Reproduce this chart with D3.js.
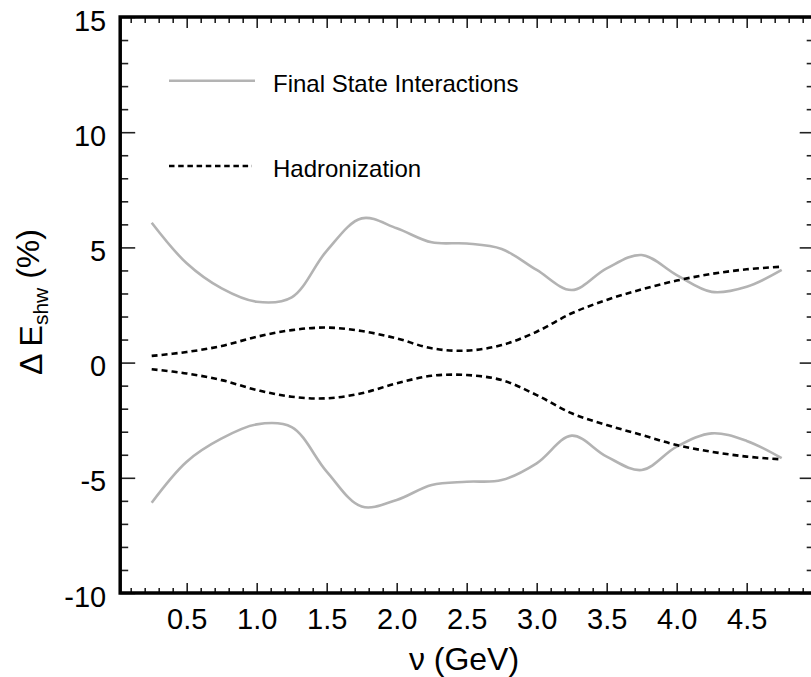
<!DOCTYPE html>
<html>
<head>
<meta charset="utf-8">
<script src="https://cdn.jsdelivr.net/npm/d3@7"></script>
<style>
  html, body { margin: 0; padding: 0; background: #fff; }
  svg { display: block; }
  text { font-family: "Liberation Sans", Arial, Helvetica, sans-serif; fill: #000; }
</style>
</head>
<body>
<svg id="chart" width="811" height="677"></svg>
<script>
// Energy (GeV) at which each uncertainty band is sampled
const nu = [0.25, 0.5, 0.75, 1.0, 1.25, 1.5, 1.75, 2.0, 2.25, 2.5, 2.75, 3.0, 3.25, 3.5, 3.75, 4.0, 4.25, 4.5, 4.75];

// Final state interactions: upper and lower shower-energy shifts (%)
const fsiUpper = [6.07, 4.31, 3.22, 2.64, 2.83, 4.85, 6.26, 5.83, 5.22, 5.17, 4.93, 4.02, 3.15, 4.09, 4.67, 3.80, 3.07, 3.29, 4.02];
const fsiLower = [-6.08, -4.30, -3.29, -2.68, -2.80, -4.73, -6.25, -5.96, -5.31, -5.17, -5.10, -4.37, -3.17, -4.08, -4.66, -3.65, -3.07, -3.40, -4.15];

// Hadronization: upper and lower shower-energy shifts (%)
const hadUpper = [0.29, 0.46, 0.72, 1.12, 1.41, 1.52, 1.37, 1.05, 0.62, 0.52, 0.76, 1.34, 2.14, 2.72, 3.18, 3.56, 3.85, 4.05, 4.16];
const hadLower = [-0.29, -0.47, -0.76, -1.19, -1.48, -1.55, -1.33, -0.90, -0.57, -0.54, -0.76, -1.41, -2.20, -2.71, -3.14, -3.58, -3.87, -4.08, -4.20];

// Axis ticks
const xMajorTicks = [0.5, 1.0, 1.5, 2.0, 2.5, 3.0, 3.5, 4.0, 4.5];
const xMinorTicks = d3.range(1, 50).map(i => i / 10).filter(v => Math.abs(v * 2 - Math.round(v * 2)) > 1e-6);
const yMajorTicks = [-10, -5, 0, 5, 10, 15];
const yMinorTicks = d3.range(-9, 15).filter(v => v % 5 !== 0);

const legendLabels = ["Final State Interactions", "Hadronization"];

const svg = d3.select("#chart");

const plotLeft = 120.2, plotRight = 816.7, plotTop = 17, plotBottom = 593;
const x = d3.scaleLinear().domain([0.025, 5.0]).range([plotLeft, plotRight]);
const y = d3.scaleLinear().domain([-10, 15]).range([plotBottom, plotTop]);

const tickFont = "29px";

// Bottom axis: major ticks with labels, minor ticks without
svg.append("g").attr("transform", `translate(0,${plotBottom})`)
  .call(d3.axisBottom(x).tickValues(xMajorTicks).tickSize(-10).tickPadding(15).tickFormat(d => d.toFixed(1)));
svg.append("g").attr("transform", `translate(0,${plotBottom})`)
  .call(d3.axisBottom(x).tickValues(xMinorTicks).tickSize(-5).tickFormat(""));
// Top axis mirrors the bottom one, ticks only
svg.append("g").attr("transform", `translate(0,${plotTop})`)
  .call(d3.axisTop(x).tickValues(xMajorTicks).tickSize(-11).tickFormat(""));
svg.append("g").attr("transform", `translate(0,${plotTop})`)
  .call(d3.axisTop(x).tickValues(xMinorTicks).tickSize(-6).tickFormat(""));

// Left axis (plain hyphen for negative labels)
const gL = svg.append("g").attr("transform", `translate(${plotLeft},0)`)
  .call(d3.axisLeft(y).tickValues(yMajorTicks).tickSize(-15).tickPadding(14).tickFormat(d => String(d)));
svg.append("g").attr("transform", `translate(${plotLeft},0)`)
  .call(d3.axisLeft(y).tickValues(yMinorTicks).tickSize(-8).tickFormat(""));
// Right axis, ticks only
svg.append("g").attr("transform", `translate(${plotRight},0)`)
  .call(d3.axisRight(y).tickValues(yMajorTicks).tickSize(-17).tickFormat(""));
svg.append("g").attr("transform", `translate(${plotRight},0)`)
  .call(d3.axisRight(y).tickValues(yMinorTicks).tickSize(-10).tickFormat(""));

svg.selectAll(".domain").remove();
svg.selectAll(".tick line").attr("stroke", "#222").attr("stroke-width", 1.6);
svg.selectAll(".tick text").style("font-size", tickFont).attr("fill", "#000");
gL.selectAll(".tick text").attr("dy", "0.45em");

// Frame
svg.append("rect")
  .attr("x", plotLeft).attr("y", plotTop)
  .attr("width", plotRight - plotLeft).attr("height", plotBottom - plotTop)
  .attr("fill", "none").attr("stroke", "#000").attr("stroke-width", 3.5);

// Curves
const line = d3.line()
  .x((d, i) => x(nu[i]))
  .y(d => y(d))
  .curve(d3.curveCatmullRom.alpha(0.5));

const fsiStyle = { stroke: "#b3b3b3", width: 2.6, dash: null };
const hadStyle = { stroke: "#000", width: 2.6, dash: "6,4" };

[[fsiUpper, fsiStyle], [fsiLower, fsiStyle], [hadUpper, hadStyle], [hadLower, hadStyle]].forEach(([vals, s]) => {
  svg.append("path")
    .datum(vals)
    .attr("d", line)
    .attr("fill", "none")
    .attr("stroke", s.stroke)
    .attr("stroke-width", s.width)
    .attr("stroke-dasharray", s.dash);
});

// Legend
const legend = svg.append("g");
legend.append("line").attr("x1", 169).attr("x2", 255).attr("y1", 80.7).attr("y2", 80.7)
  .attr("stroke", fsiStyle.stroke).attr("stroke-width", fsiStyle.width);
legend.append("text").attr("x", 273).attr("y", 91.5).style("font-size", "24px").text(legendLabels[0]);
legend.append("line").attr("x1", 169).attr("x2", 252).attr("y1", 166).attr("y2", 166)
  .attr("stroke", hadStyle.stroke).attr("stroke-width", hadStyle.width).attr("stroke-dasharray", "5.5,3.7");
legend.append("text").attr("x", 273).attr("y", 176.7).style("font-size", "24px").text(legendLabels[1]);

// Axis titles
svg.append("text")
  .attr("x", 464).attr("y", 670)
  .attr("text-anchor", "middle")
  .style("font-size", "32px")
  .text("ν (GeV)");

const yTitle = svg.append("text")
  .attr("transform", "translate(42,302) rotate(-90)")
  .attr("text-anchor", "middle")
  .style("font-size", "32px");
yTitle.append("tspan").text("Δ E");
yTitle.append("tspan").attr("dy", "0.3em").style("font-size", "21px").text("shw");
yTitle.append("tspan").attr("dy", "-0.3em").text(" (%)");
</script>
</body>
</html>
